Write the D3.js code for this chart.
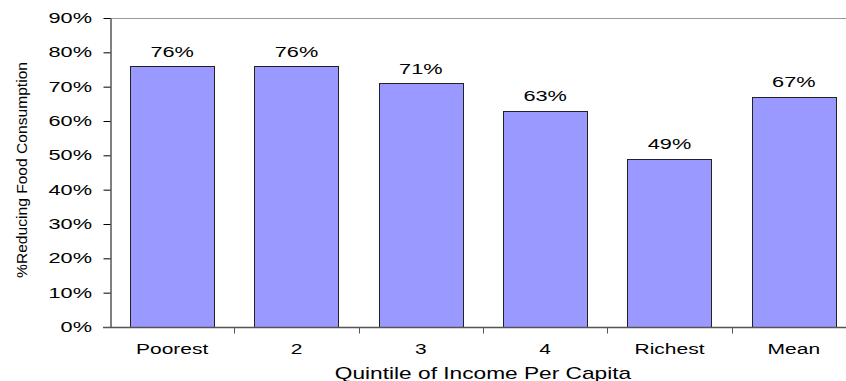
<!DOCTYPE html>
<html>
<head>
<meta charset="utf-8">
<script src="https://cdn.jsdelivr.net/npm/d3@7"></script>
<style>
  html, body { margin: 0; padding: 0; background: #fff; }
  svg { display: block; }
  text { font-family: "Liberation Sans", Arial, sans-serif; fill: #000; }
</style>
</head>
<body>
<svg id="chart" width="846" height="381"></svg>
<script>
// Share of households reducing food consumption, by income quintile
const categories = ["Poorest", "2", "3", "4", "Richest", "Mean"];
const values = [76, 76, 71, 63, 49, 67];
const yTicks = [0, 10, 20, 30, 40, 50, 60, 70, 80, 90];

const svg = d3.select("#chart");
const margin = { left: 110, top: 18, right: -10, bottom: 54 };
const W = 846, H = 381;
const plotRight = W - margin.right;      // plot frame runs slightly past the canvas
const plotBottom = H - margin.bottom;

const x = d3.scaleBand().domain(categories).range([margin.left, plotRight]).paddingInner(0.322).paddingOuter(0.161);
const xb = d3.scaleBand().domain(categories).range([margin.left, plotRight]).padding(0);
const y = d3.scaleLinear().domain([0, 90]).range([plotBottom, margin.top]);

// wide-set text: a label drawn at (px, py) and stretched horizontally by sx
function wideText(parent, px, py, str, size, sx, anchor) {
  const g = parent.append("g").attr("transform", `translate(${px},${py}) scale(${sx},1)`);
  g.append("text").attr("text-anchor", anchor).attr("font-size", size).text(str);
  return g;
}

// plot frame (top and right edges)
svg.append("path")
  .attr("d", `M${margin.left},${margin.top + 0.5}H${plotRight}V${plotBottom}`)
  .attr("fill", "none").attr("stroke", "#999").attr("stroke-width", 1);

// bars
svg.append("g").selectAll("rect").data(values).join("rect")
  .attr("x", (d, i) => Math.round(x(categories[i])) + 0.5)
  .attr("y", d => Math.round(y(d)) + 0.5)
  .attr("width", Math.round(x.bandwidth()))
  .attr("height", d => Math.round(plotBottom) - Math.round(y(d)))
  .attr("fill", "#9999ff")
  .attr("stroke", "#222").attr("stroke-width", 1);

// value labels
const vl = svg.append("g");
values.forEach((d, i) => {
  wideText(vl, x(categories[i]) + x.bandwidth() / 2, y(d) - 9.5, d + "%", 14.5, 1.5, "middle");
});

// y axis
const yAxis = svg.append("g").attr("transform", `translate(${margin.left + 0.5},0)`)
  .call(d3.axisLeft(y).tickValues(yTicks).tickFormat("").tickSize(7).tickSizeOuter(0));
yAxis.select(".domain").attr("stroke", "#000");
yAxis.selectAll(".tick line").attr("stroke", "#000");
const yl = svg.append("g");
yTicks.forEach(t => {
  wideText(yl, 92, y(t) + 5, t + "%", 14.5, 1.5, "end");
});

// x axis: ticks at category boundaries
const boundaries = categories.map(c => xb(c)).concat([xb(categories[categories.length - 1]) + xb.bandwidth()]);
const xAxisG = svg.append("g").attr("transform", `translate(0,${plotBottom + 0.5})`);
xAxisG.append("line").attr("x1", margin.left - 7).attr("x2", plotRight).attr("y1", 0).attr("y2", 0)
  .attr("stroke", "#555").attr("stroke-width", 1.5);
xAxisG.selectAll("line.tk").data(boundaries.slice(1)).join("line").attr("class", "tk")
  .attr("x1", d => Math.round(d) + 0.5).attr("x2", d => Math.round(d) + 0.5)
  .attr("y1", 0).attr("y2", 6).attr("stroke", "#555");
const xl = svg.append("g");
categories.forEach(c => {
  wideText(xl, x(c) + x.bandwidth() / 2, 353.5, c, 15, 1.4, "middle");
});

// axis titles
wideText(svg, (margin.left + plotRight) / 2, 379, "Quintile of Income Per Capita", 16, 1.42, "middle");

svg.append("text")
  .attr("transform", "translate(27,170) rotate(-90)")
  .attr("text-anchor", "middle").attr("font-size", 14)
  .attr("textLength", 216).attr("lengthAdjust", "spacingAndGlyphs")
  .text("%Reducing Food Consumption");
</script>
</body>
</html>
